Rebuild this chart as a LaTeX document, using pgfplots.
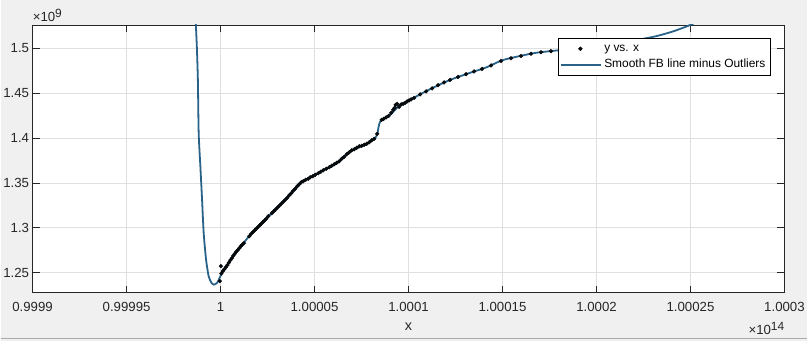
\documentclass[border=0pt]{standalone}
\usepackage{fontspec}
\setmainfont{Liberation Sans}
\usepackage{pgfplots}
\usepackage{pgfplotstable}
\pgfplotsset{compat=1.18}
\definecolor{figbg}{RGB}{240,240,240}
\definecolor{axgray}{RGB}{38,38,38}
\definecolor{gridgray}{RGB}{223,223,223}
\definecolor{fitblue}{RGB}{40,98,136}
\definecolor{edgegray}{RGB}{170,170,170}
\pgfplotsset{
  dotlegend/.style={legend image code/.code={\path[draw=none,fill=none] (0bp,0bp) -- (40bp,0bp); \path[##1, draw=none] plot[only marks] coordinates {(19bp,0bp)};}},
  linelegend/.style={legend image code/.code={\draw[##1] (0bp,0bp) -- (40bp,0bp);}},
}
% x given as (x/1e14 - 1)*1e5, y as y/1e9
\pgfplotstableread{
x y
-0.0372 1.24056
0.0160 1.25722
0.0425 1.24889
0.1222 1.25167
0.2019 1.25389
0.2816 1.25611
0.3613 1.25833
0.4410 1.26111
0.5208 1.26389
0.6005 1.26611
0.6802 1.26889
0.7599 1.27111
0.8396 1.27333
0.9193 1.27522
0.9990 1.27722
1.0787 1.27944
1.1584 1.28111
1.2381 1.28278
1.5303 1.29056
1.6366 1.29333
1.7429 1.29556
1.8226 1.29722
1.9023 1.29889
2.0085 1.30111
2.0882 1.30278
2.1679 1.30444
2.2476 1.30611
2.3273 1.30778
2.4336 1.31000
2.5399 1.31278
2.7259 1.31611
2.8321 1.31833
2.9118 1.32000
3.0181 1.32222
3.1244 1.32444
3.2306 1.32667
3.3369 1.32889
3.4432 1.33111
3.5494 1.33333
3.6557 1.33611
3.7620 1.33833
3.8683 1.34111
3.9745 1.34333
4.0808 1.34611
4.1871 1.34833
4.2933 1.35056
4.3996 1.35167
4.5324 1.35333
4.6653 1.35444
4.7716 1.35611
4.9044 1.35722
5.0372 1.35889
5.1966 1.36056
5.3295 1.36222
5.4623 1.36389
5.6217 1.36556
5.7811 1.36722
5.9140 1.36889
6.0468 1.37056
6.1796 1.37222
6.3125 1.37389
6.4453 1.37667
6.5781 1.37889
6.7110 1.38167
6.8438 1.38389
6.9767 1.38611
7.1095 1.38722
7.2423 1.38889
7.3752 1.39056
7.5080 1.39111
7.6408 1.39222
7.7737 1.39333
7.9065 1.39500
8.0394 1.39722
8.1722 1.39889
8.3316 1.40444
8.5707 1.42000
8.6770 1.42111
8.8098 1.42278
8.9427 1.42444
9.0755 1.42778
9.1818 1.43111
9.2615 1.43333
9.3146 1.43667
9.3943 1.43778
9.5006 1.43444
9.6068 1.43722
9.7131 1.43778
9.8194 1.43889
9.9256 1.44056
10.0319 1.44167
10.1382 1.44278
10.2976 1.44444
10.6164 1.44833
10.9352 1.45167
11.2540 1.45500
11.5728 1.45856
11.8916 1.46167
12.2105 1.46444
12.6355 1.46778
13.0606 1.47078
13.4857 1.47389
13.9108 1.47667
14.3890 1.48056
14.9203 1.48556
15.4517 1.48856
15.9830 1.49111
16.5144 1.49356
17.0457 1.49522
17.5771 1.49644
}\datatable
\pgfplotstableread{
x y
-1.3496 1.54222
-1.3124 1.52556
-1.2591 1.50000
-1.2061 1.46444
-1.1636 1.40522
-1.0733 1.36811
-0.9832 1.33111
-0.8979 1.29411
-0.7704 1.26444
-0.6323 1.24589
-0.4888 1.23889
-0.3560 1.23667
-0.1859 1.23856
-0.0106 1.24589
0.0957 1.25222
0.2551 1.25522
0.7864 1.27189
1.6738 1.29411
2.6462 1.31444
3.4432 1.33111
4.2402 1.35000
4.9469 1.35778
6.1903 1.37189
6.8970 1.38478
7.7843 1.39333
8.2253 1.39967
8.3475 1.40522
8.4910 1.41800
9.0224 1.42556
9.4634 1.43478
10.0851 1.44222
10.7918 1.45033
11.5038 1.45778
12.2105 1.46444
13.0978 1.47111
14.1605 1.47856
15.0426 1.48667
16.6366 1.49411
17.7896 1.49700
20.1807 1.50222
21.7748 1.50722
22.6621 1.51089
23.2625 1.51356
24.0596 1.51833
24.8566 1.52444
25.4942 1.53056
}\fittable
\begin{document}
\begin{tikzpicture}
\fill[figbg] (0,0) rectangle (808bp,342bp);
\draw[edgegray, line width=0.8bp] (0,3.5bp) -- (808bp,3.5bp);
\begin{axis}[
  at={(32bp,49bp)}, anchor=south west,
  scale only axis, width=753bp, height=268bp,
  axis background/.style={fill=white},
  xmin=-10, xmax=30, ymin=1.2278, ymax=1.5256,
  xtick={-10,-5,0,5,10,15,20,25,30},
  xticklabels={0.9999,0.99995,1,1.00005,1.0001,1.00015,1.0002,1.00025,1.0003},
  ytick={1.25,1.3,1.35,1.4,1.45,1.5},
  yticklabels={1.25,1.3,1.35,1.4,1.45,1.5},
  tick align=inside, major tick length=7bp,
  tick style={color=axgray, line width=0.5bp},
  axis line style={draw=axgray, line width=0.6bp},
  grid=major, grid style={color=gridgray, line width=0.5bp},
  tick label style={font=\fontsize{13.3}{16}\selectfont, text=axgray},
  x tick label style={yshift=-6bp},
  xlabel={x},
  xlabel style={at={(axis description cs:0.5,0)}, anchor=center, yshift=-34bp, font=\fontsize{14.5}{17}\selectfont, text=axgray},
  legend cell align=left,
  legend style={at={(0.6985,0.9504)}, anchor=north west, draw=black, line width=0.5bp, fill=white,
    font=\fontsize{12}{14}\selectfont, inner xsep=2.5bp, inner ysep=2.3bp, row sep=0pt,
    nodes={inner sep=2bp, text height=9bp, text depth=3bp}},
]
\addplot[only marks, mark=*, mark size=1.9bp, black, mark options={fill=black!85!fitblue}, dotlegend] table {\datatable};
\addlegendentry{y vs. x}
\addplot[fitblue, line width=1.8bp, smooth, tension=0.4, no marks, linelegend] table {\fittable};
\addlegendentry{Smooth FB line minus Outliers}
\end{axis}
\node[anchor=base west, inner sep=0, text=axgray, font=\fontsize{13.3}{16}\selectfont] at (32bp,320.3bp) {×10{\fontsize{12}{12}\selectfont\raisebox{4.5bp}{9}}};
\node[anchor=base east, inner sep=0, text=axgray, font=\fontsize{13.3}{16}\selectfont] at (785bp,7bp) {×10{\fontsize{12}{12}\selectfont\raisebox{4.5bp}{14}}};
\end{tikzpicture}
\end{document}
